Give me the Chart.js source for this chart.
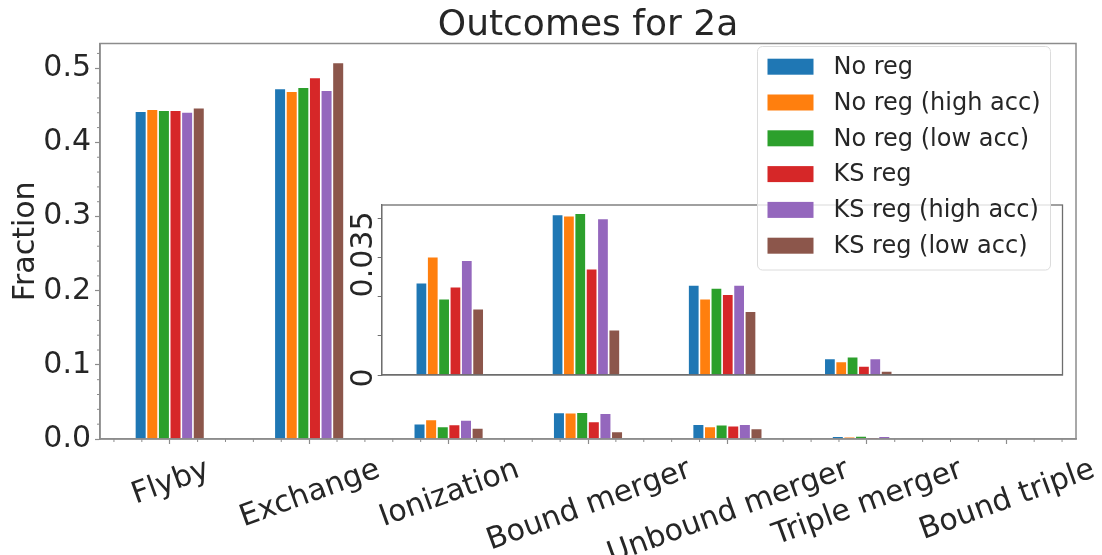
<!DOCTYPE html>
<html>
<head>
<meta charset="utf-8">
<script src="https://cdn.jsdelivr.net/npm/chart.js@4.4.1/dist/chart.umd.min.js"></script>
<style>
  html, body { margin: 0; padding: 0; background: #ffffff; }
  #wrap { position: relative; width: 1102px; height: 555px; overflow: hidden; }
  #wrap canvas { position: absolute; left: 0; top: 0; }
  #inset { pointer-events: none; }
</style>
</head>
<body>
<div id="wrap">
  <canvas id="main" width="1102" height="555"></canvas>
  <canvas id="inset" width="1102" height="555"></canvas>
</div>
<script>
// Outcome categories and the six integration set-ups
const categories = ['Flyby', 'Exchange', 'Ionization', 'Bound merger', 'Unbound merger', 'Triple merger', 'Bound triple'];
const seriesNames = ['No reg', 'No reg (high acc)', 'No reg (low acc)', 'KS reg', 'KS reg (high acc)', 'KS reg (low acc)'];
const seriesColors = ['#1f77b4', '#ff7f0e', '#2ca02c', '#d62728', '#9467bd', '#8c564b'];

// Fraction of runs ending in each outcome
const noReg         = [0.4420, 0.4727, 0.0206, 0.0358, 0.0201, 0.0037, 0];
const noRegHighAcc  = [0.4447, 0.4690, 0.0264, 0.0355, 0.0170, 0.0030, 0];
const noRegLowAcc   = [0.4434, 0.4745, 0.0170, 0.0361, 0.0194, 0.0041, 0];
const ksReg         = [0.4434, 0.4876, 0.0197, 0.0237, 0.0180, 0.0020, 0];
const ksRegHighAcc  = [0.4410, 0.4705, 0.0256, 0.0349, 0.0201, 0.0037, 0];
const ksRegLowAcc   = [0.4469, 0.5080, 0.0148, 0.0101, 0.0142, 0.0009, 0];
const seriesValues = [noReg, noRegHighAcc, noRegLowAcc, ksReg, ksRegHighAcc, ksRegLowAcc];

// Axis ticks
const mainYTicks = [0.0, 0.1, 0.2, 0.3, 0.4, 0.5];
const insetYTicks = [0, 0.035];
const insetYTickLabels = ['0', '0.035'];
const insetFirstCategory = 2; // the inset zooms on the small outcomes from Ionization on

const FONT = "'DejaVu Sans', 'Liberation Sans', sans-serif";
const TEXT = '#262626';
const SPINE = '#8c8c8c';
const INSET_SPINE = '#6e6e6e';

const mainYMax = Math.max(...seriesValues.flat()) * 1.05;
const insetYMax = Math.max(...seriesValues.map(s => Math.max(...s.slice(insetFirstCategory)))) * 1.05;

function strokeLine(ctx, x1, y1, x2, y2) {
  ctx.beginPath(); ctx.moveTo(x1, y1); ctx.lineTo(x2, y2); ctx.stroke();
}

// Frame, minor ticks, title, axis label and slanted category labels of the main axes
const mainDecor = {
  id: 'mainDecor',
  afterDraw(chart) {
    const { ctx, chartArea: a, scales: { x, y } } = chart;
    ctx.save();
    ctx.strokeStyle = SPINE;
    ctx.lineWidth = 1;
    // minor y ticks every 0.02
    for (let m = 1; m * 0.02 < y.max; m++) {
      if (m % 5 === 0) continue;
      const py = y.getPixelForValue(m * 0.02);
      strokeLine(ctx, a.left - 3, py, a.left, py);
    }
    // minor x ticks every 0.2 category
    const unit = x.getPixelForValue(1) - x.getPixelForValue(0);
    const x0 = x.getPixelForValue(0);
    for (let m = -2; m * 0.2 < categories.length - 0.5; m++) {
      if (m % 5 === 0) continue;
      const px = x0 + m * 0.2 * unit;
      strokeLine(ctx, px, a.bottom, px, a.bottom + 3);
    }
    // frame
    ctx.lineWidth = 1.5;
    ctx.strokeRect(a.left, a.top, a.right - a.left, a.bottom - a.top);

    ctx.fillStyle = TEXT;
    // title
    ctx.font = '36px ' + FONT;
    ctx.textAlign = 'center';
    ctx.textBaseline = 'alphabetic';
    ctx.fillText('Outcomes for 2a', (a.left + a.right) / 2, 35);
    // y axis label
    ctx.save();
    ctx.font = '30px ' + FONT;
    ctx.translate(34, (a.top + a.bottom) / 2);
    ctx.rotate(-Math.PI / 2);
    ctx.fillText('Fraction', 0, 0);
    ctx.restore();
    // category labels, rotated 20 degrees and centred under their tick
    const ang = 20 * Math.PI / 180;
    ctx.font = '30px ' + FONT;
    const labelTop = a.bottom + 11;
    categories.forEach((lab, i) => {
      const m = ctx.measureText(lab);
      const asc = m.fontBoundingBoxAscent || 27.8;
      const desc = m.fontBoundingBoxDescent || 7.1;
      const h = asc + desc;
      const H = m.width * Math.sin(ang) + h * Math.cos(ang);
      ctx.save();
      ctx.translate(x.getPixelForValue(i), labelTop + H / 2);
      ctx.rotate(-ang);
      ctx.textAlign = 'center';
      ctx.textBaseline = 'alphabetic';
      ctx.fillText(lab, 0, (asc - desc) / 2);
      ctx.restore();
    });
    ctx.restore();
  }
};

new Chart(document.getElementById('main'), {
  type: 'bar',
  data: {
    labels: categories,
    datasets: seriesValues.map((vals, i) => ({
      label: seriesNames[i],
      data: vals,
      backgroundColor: seriesColors[i],
      borderColor: 'rgba(255,255,255,0.85)',
      borderWidth: 0.8,
      borderSkipped: 'start',
      categoryPercentage: 0.5,
      barPercentage: 1.0
    }))
  },
  options: {
    responsive: false,
    animation: false,
    devicePixelRatio: 1,
    layout: { padding: { top: 43.5, right: 26, left: 0, bottom: 0 } },
    plugins: { legend: { display: false }, tooltip: { enabled: false }, title: { display: false } },
    scales: {
      x: {
        type: 'category',
        offset: true,
        grid: { display: true, offset: false, drawOnChartArea: false, drawTicks: true, tickLength: 5, tickColor: SPINE, tickWidth: 1.2 },
        border: { display: true, color: SPINE, width: 1.5 },
        ticks: { display: false },
        afterFit(s) { s.height = 116; }
      },
      y: {
        min: 0,
        max: mainYMax,
        afterBuildTicks(s) { s.ticks = mainYTicks.map(v => ({ value: v })); },
        ticks: {
          font: { family: FONT, size: 30 },
          color: TEXT,
          padding: 4,
          callback: v => v.toFixed(1)
        },
        grid: { drawOnChartArea: false, drawTicks: true, tickLength: 5, tickColor: SPINE, tickWidth: 1.2 },
        border: { display: true, color: SPINE, width: 1.5 },
        afterFit(s) { s.width = 100; }
      }
    }
  },
  plugins: [mainDecor]
});

// Inset frame, rotated tick labels and the legend on top
const insetDecor = {
  id: 'insetDecor',
  beforeDraw(chart) {
    const { ctx, chartArea: a } = chart;
    ctx.save();
    ctx.fillStyle = '#ffffff';
    ctx.fillRect(a.left, a.top, a.right - a.left, a.bottom - a.top);
    ctx.restore();
  },
  afterDraw(chart) {
    const { ctx, chartArea: a, scales: { y } } = chart;
    ctx.save();
    ctx.strokeStyle = INSET_SPINE;
    ctx.lineWidth = 1.3;
    ctx.strokeRect(a.left, a.top, a.right - a.left, a.bottom - a.top);

    ctx.fillStyle = TEXT;
    ctx.font = '30px ' + FONT;
    insetYTicks.forEach((v, i) => {
      const py = y.getPixelForValue(v);
      ctx.save();
      ctx.translate(a.left - 10, py - 6.5);
      ctx.rotate(-Math.PI / 2);
      ctx.textAlign = 'right';
      ctx.textBaseline = 'alphabetic';
      ctx.fillText(insetYTickLabels[i], 0, 0);
      ctx.restore();
    });

    // legend
    const bx = 757.5, by = 46.5, bw = 293, bh = 223.5, r = 5;
    ctx.beginPath();
    ctx.moveTo(bx + r, by);
    ctx.arcTo(bx + bw, by, bx + bw, by + bh, r);
    ctx.arcTo(bx + bw, by + bh, bx, by + bh, r);
    ctx.arcTo(bx, by + bh, bx, by, r);
    ctx.arcTo(bx, by, bx + bw, by, r);
    ctx.closePath();
    ctx.fillStyle = 'rgba(255,255,255,0.8)';
    ctx.fill();
    ctx.strokeStyle = '#dcdcdc';
    ctx.lineWidth = 1;
    ctx.stroke();
    ctx.font = '24px ' + FONT;
    ctx.textAlign = 'left';
    ctx.textBaseline = 'middle';
    seriesNames.forEach((name, i) => {
      const cy = 66.7 + i * 35.8;
      ctx.fillStyle = seriesColors[i];
      ctx.fillRect(767.5, cy - 8, 46, 16);
      ctx.fillStyle = TEXT;
      ctx.fillText(name, 833.5, cy + 1);
    });
    ctx.restore();
  }
};

// Minor ticks on the inset follow the spacing of its two labelled ticks
const insetMinorTicks = [];
{
  const step = (insetYTicks[1] - insetYTicks[0]) / 4;
  for (let k = 0; k <= 4; k++) insetMinorTicks.push(insetYTicks[0] + k * step);
}

new Chart(document.getElementById('inset'), {
  type: 'bar',
  data: {
    datasets: seriesValues.map((vals, i) => ({
      label: seriesNames[i],
      data: vals.map((v, k) => ({ x: k, y: v })).filter(p => p.x >= insetFirstCategory),
      backgroundColor: seriesColors[i],
      borderColor: 'rgba(255,255,255,0.85)',
      borderWidth: 0.8,
      borderSkipped: 'start',
      categoryPercentage: 0.5,
      barPercentage: 1.0
    }))
  },
  options: {
    responsive: false,
    animation: false,
    devicePixelRatio: 1,
    layout: { padding: { top: 205, right: 39.5, left: 0, bottom: 0 } },
    plugins: { legend: { display: false }, tooltip: { enabled: false }, title: { display: false } },
    scales: {
      x: {
        type: 'linear',
        offset: false,
        bounds: 'data',
        min: insetFirstCategory - 0.5,
        max: categories.length - 0.5,
        // one (hidden) tick per category so bar groups get a full category width
        afterBuildTicks(s) {
          s.ticks = categories.map((c, k) => ({ value: k })).filter(t => t.value >= insetFirstCategory);
        },
        grid: { display: false, offset: false },
        border: { display: true, color: INSET_SPINE, width: 1.3 },
        ticks: { display: false },
        afterFit(s) { s.height = 180; }
      },
      y: {
        min: 0,
        max: insetYMax,
        afterBuildTicks(s) { s.ticks = insetMinorTicks.map(v => ({ value: v })); },
        ticks: { display: false },
        grid: { drawOnChartArea: false, drawTicks: true, tickLength: 4, tickColor: INSET_SPINE, tickWidth: 1 },
        border: { display: true, color: INSET_SPINE, width: 1.3 },
        afterFit(s) { s.width = 381.7; }
      }
    }
  },
  plugins: [insetDecor]
});
</script>
</body>
</html>
